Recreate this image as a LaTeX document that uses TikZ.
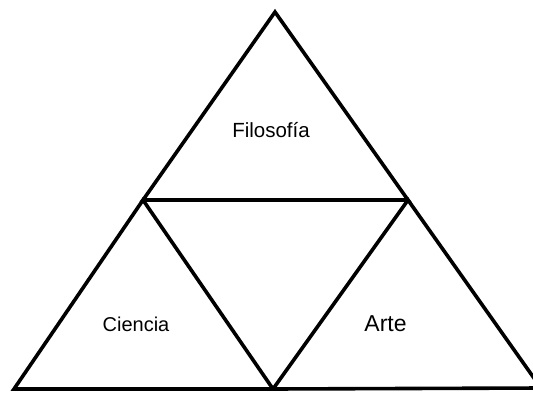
\documentclass[tikz,border=0pt]{standalone}
\usepackage{fontspec}
\setmainfont{Liberation Sans}
\begin{document}
\begin{tikzpicture}[x=1pt,y=-1pt,
  tri/.style={draw=black,line width=3.6pt,line join=miter},
  lbl/.style={anchor=base,inner sep=0pt,text=black}]
\useasboundingbox (0,0) rectangle (533,394);
\clip (0,0) rectangle (533,394);
\coordinate (T) at (275,12);
\coordinate (L) at (143,200);
\coordinate (R) at (408,200);
\coordinate (BL) at (14,389);
\coordinate (BM) at (273,389);
\coordinate (BR) at (541,388);
\draw[tri] (T) -- (R) -- (L) -- cycle;
\draw[tri] (L) -- (BM) -- (BL) -- cycle;
\draw[tri] (R) -- (BR) -- (BM) -- cycle;
\node[lbl,font=\fontsize{20.5}{24}\selectfont] (filo) at (271,137) {Filosofía};
\node[lbl,font=\fontsize{20}{24}\selectfont] (cien) at (136,331) {Ciencia};
\node[lbl,font=\fontsize{23}{27}\selectfont] (arte) at (385.5,331.5) {Arte};
\end{tikzpicture}
\end{document}
